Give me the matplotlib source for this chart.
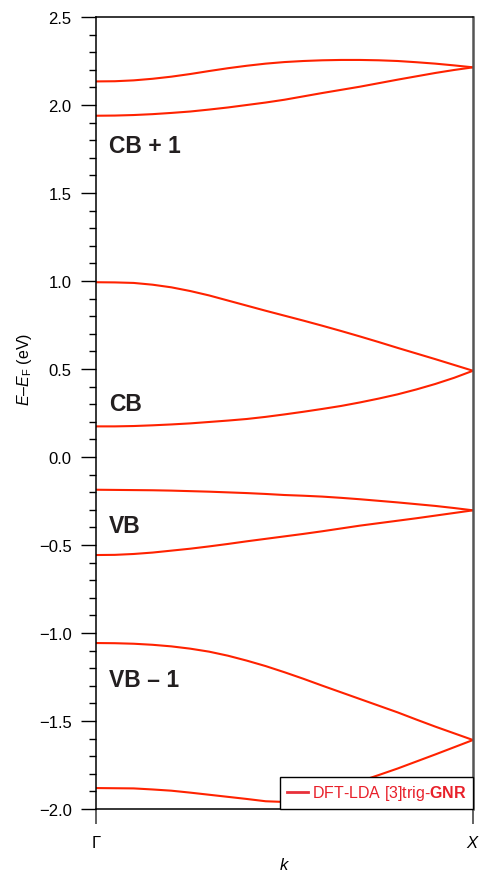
import numpy as np
import matplotlib
matplotlib.use('Agg')
import matplotlib.pyplot as plt

plt.rcParams['font.family'] = ['Liberation Sans', 'DejaVu Sans']
plt.rcParams['mathtext.fontset'] = 'custom'
plt.rcParams['mathtext.rm'] = 'Liberation Sans'
plt.rcParams['mathtext.it'] = 'Liberation Sans:italic'
plt.rcParams['mathtext.bf'] = 'Liberation Sans:bold'

# k path Gamma -> X (fraction of the path)
k = [0.00, 0.05, 0.10, 0.15, 0.20, 0.25, 0.30, 0.35, 0.40, 0.45, 0.50,
     0.55, 0.60, 0.65, 0.70, 0.75, 0.80, 0.85, 0.90, 0.95, 1.00]

# band energies E - E_F (eV)
cb1_upper = [2.134, 2.135, 2.140, 2.149, 2.161, 2.176, 2.193, 2.209, 2.223, 2.235, 2.244,
             2.250, 2.254, 2.256, 2.256, 2.254, 2.250, 2.243, 2.235, 2.225, 2.214]
cb1_lower = [1.939, 1.940, 1.943, 1.948, 1.955, 1.963, 1.974, 1.986, 2.000, 2.014, 2.030,
             2.049, 2.068, 2.086, 2.104, 2.124, 2.144, 2.163, 2.182, 2.199, 2.214]
cb_upper = [0.993, 0.992, 0.989, 0.979, 0.964, 0.943, 0.918, 0.889, 0.860, 0.831, 0.803,
            0.775, 0.746, 0.716, 0.685, 0.653, 0.620, 0.588, 0.556, 0.523, 0.490]
cb_lower = [0.174, 0.174, 0.176, 0.180, 0.185, 0.191, 0.199, 0.207, 0.216, 0.228, 0.242,
            0.257, 0.273, 0.290, 0.310, 0.332, 0.356, 0.384, 0.415, 0.450, 0.490]
vb_upper = [-0.186, -0.187, -0.188, -0.189, -0.191, -0.194, -0.197, -0.201, -0.205, -0.210,
            -0.216, -0.220, -0.225, -0.232, -0.240, -0.249, -0.258, -0.268, -0.278, -0.290,
            -0.303]
vb_lower = [-0.557, -0.556, -0.551, -0.543, -0.532, -0.521, -0.508, -0.494, -0.479, -0.465,
            -0.451, -0.437, -0.422, -0.406, -0.390, -0.376, -0.362, -0.348, -0.333, -0.318,
            -0.303]
vb1_upper = [-1.057, -1.058, -1.061, -1.067, -1.076, -1.089, -1.106, -1.129, -1.157, -1.188,
             -1.223, -1.260, -1.299, -1.337, -1.375, -1.413, -1.451, -1.492, -1.532, -1.570,
             -1.608]
vb1_lower = [-1.881, -1.882, -1.883, -1.889, -1.896, -1.907, -1.919, -1.931, -1.943, -1.956,
             -1.960, -1.935, -1.905, -1.875, -1.843, -1.807, -1.770, -1.730, -1.690, -1.649,
             -1.608]

bands = [cb1_upper, cb1_lower, cb_upper, cb_lower,
         vb_upper, vb_lower, vb1_upper, vb1_lower]

band_names = ['CB + 1', 'CB', 'VB', 'VB \u2013 1']
band_label_E = [1.733, 0.267, -0.426, -1.301]

xtick_labels = [r'$\Gamma$', '$X$']

lineColor = '#ff2200'
textDark = '#231f20'

fig = plt.figure(figsize=(4.83, 8.78), dpi=100)
ax = fig.add_axes([96/483, 1 - 810/878, 377/483, 792/878])

for ii, band in enumerate(bands):
    lbl = r'DFT-LDA [3]trig-$\mathbf{GNR}$' if ii == 0 else None
    ax.plot(k, band, color=lineColor, lw=1.5, label=lbl, solid_joinstyle='round')

for name, e in zip(band_names, band_label_E):
    ax.text(0.034, e, name, fontsize=16.5, fontweight='bold', color=textDark,
            ha='left', va='baseline')

ax.set_xlim(0, 1)
ax.set_ylim(-2.0, 2.5)
yMajor = np.arange(-2.0, 2.51, 0.5)
ax.set_yticks(yMajor)
ax.set_yticks(np.arange(-2.0, 2.51, 0.1), minor=True)
ax.set_yticklabels([('%.1f' % v).replace('-', '\u2212') for v in yMajor])
ax.set_xticks([0, 1])
ax.set_xticklabels(xtick_labels)

ax.tick_params(axis='y', which='major', direction='out', length=11, width=1,
               labelsize=12, pad=6.5, color='black')
ax.tick_params(axis='y', which='minor', direction='out', length=5, width=1,
               color='black')
ax.tick_params(axis='x', which='major', direction='out', length=11, width=1.3,
               labelsize=12, pad=7, color='#555555')

for side in ['left', 'bottom', 'top']:
    ax.spines[side].set_color('black')
    ax.spines[side].set_linewidth(1.1)
ax.spines['right'].set_color('#555555')
ax.spines['right'].set_linewidth(1.8)

ax.set_xlabel('$k$', fontsize=12, labelpad=4)
ax.set_ylabel(r'$E$–$E_{\rm F}$ (eV)', fontsize=11.5)
ax.yaxis.set_label_coords(-0.165, 0.556)

leg = ax.legend(loc='lower right', bbox_to_anchor=(1.0, 0.0), borderaxespad=0,
                fontsize=11.5, fancybox=False, framealpha=1, edgecolor='black',
                handlelength=1.3, handletextpad=0.25, borderpad=0.42)
leg.get_frame().set_linewidth(1.0)
for t in leg.get_texts():
    t.set_color('#e8202a')
legLine = leg.get_lines()[0]
legLine.set_color('#e8303a')
legLine.set_linewidth(2.0)

fig.savefig('out.png', dpi=100)
